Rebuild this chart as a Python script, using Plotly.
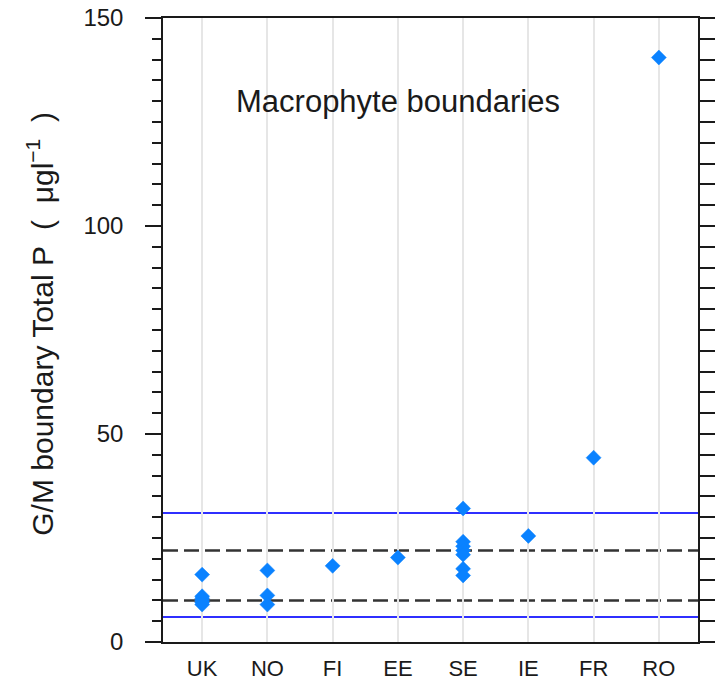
import plotly.graph_objects as go

countries = ["UK", "NO", "FI", "EE", "SE", "IE", "FR", "RO"]
uk = [16.2, 11.0, 10.5, 10.0, 9.5, 9.0]
no = [17.2, 11.2, 9.0]
fi = [18.3]
ee = [20.3]
se = [32.1, 24.1, 23.0, 22.0, 21.0, 17.6, 16.0]
ie = [25.5]
fr = [44.3]
ro = [140.5]
values_by_country = [uk, no, fi, ee, se, ie, fr, ro]

blue_lines = [31.0, 6.0]
dashed_lines = [22.0, 10.0]
y_ticks = [0, 50, 100, 150]
title_text = "Macrophyte boundaries"
ytitle_text = "G/M boundary Total P &nbsp;( &nbsp;μgl<sup>−1</sup>&nbsp; )"

xs, ys = [], []
for c, vals in zip(countries, values_by_country):
    for v in vals:
        xs.append(c)
        ys.append(v)

fig = go.Figure()
fig.add_trace(go.Scatter(
    x=xs, y=ys, mode="markers",
    marker=dict(symbol="diamond", size=11.5, color="#0a82ff", line=dict(width=0.5, color="#0a82ff")),
    showlegend=False, hoverinfo="x+y",
))
# invisible trace on right axis
fig.add_trace(go.Scatter(x=[countries[0]], y=[0], yaxis="y2", mode="markers",
                         marker=dict(opacity=0), showlegend=False, hoverinfo="skip"))

for v in blue_lines:
    fig.add_hline(y=v, line=dict(color="#2f2fff", width=2), layer="below")
for v in dashed_lines:
    fig.add_hline(y=v, line=dict(color="#333333", width=2.5, dash="15px,6px"), layer="below")

font = "Liberation Sans, Arial, sans-serif"
fig.update_layout(
    width=716, height=690,
    margin=dict(l=163, r=18, t=18, b=48, autoexpand=False),
    paper_bgcolor="white", plot_bgcolor="white",
    font=dict(family=font, color="#1a1a1a"),
    xaxis=dict(
        type="category", categoryorder="array", categoryarray=countries,
        range=[-0.6, 7.6], showgrid=True, gridcolor="#e6e6e6", gridwidth=1.5,
        showline=True, linecolor="#1a1a1a", linewidth=1.5, mirror=True,
        ticks="", tickfont=dict(size=22, family=font), ticklabelstandoff=6,
        zeroline=False, automargin=False, ticklabeloverflow="allow",
    ),
    yaxis=dict(
        range=[0, 150], tickvals=y_ticks, showgrid=False, zeroline=False,
        showline=True, linecolor="#1a1a1a", linewidth=1.5,
        ticks="outside", ticklen=16, tickwidth=1.5, tickcolor="#1a1a1a",
        minor=dict(dtick=5, ticks="outside", ticklen=9, tickwidth=1.5, tickcolor="#1a1a1a", showgrid=False),
        tickfont=dict(size=24, family=font), ticklabelstandoff=17, automargin=False,
        ticklabeloverflow="allow",
    ),
    yaxis2=dict(
        range=[0, 150], overlaying="y", side="right", dtick=5, showgrid=False, zeroline=False,
        showline=True, linecolor="#1a1a1a", linewidth=1.5,
        ticks="outside", ticklen=15, tickwidth=1.5, tickcolor="#1a1a1a",
        showticklabels=False, automargin=False,
    ),
    annotations=[
        dict(x=countries[3], y=130, xref="x", yref="y", text=title_text, showarrow=False,
             font=dict(size=31, family=font, color="#1a1a1a"), xanchor="center", yanchor="middle"),
        dict(x=-0.23, y=0.51, xref="paper", yref="paper", text=ytitle_text, showarrow=False,
             textangle=-90, font=dict(size=30, family=font, color="#1a1a1a"),
             xanchor="center", yanchor="middle"),
    ],
)

fig.write_html(
    "out.html",
    config={"displayModeBar": False},
    post_script="document.body.style.margin='0';document.body.style.overflow='hidden';",
)
